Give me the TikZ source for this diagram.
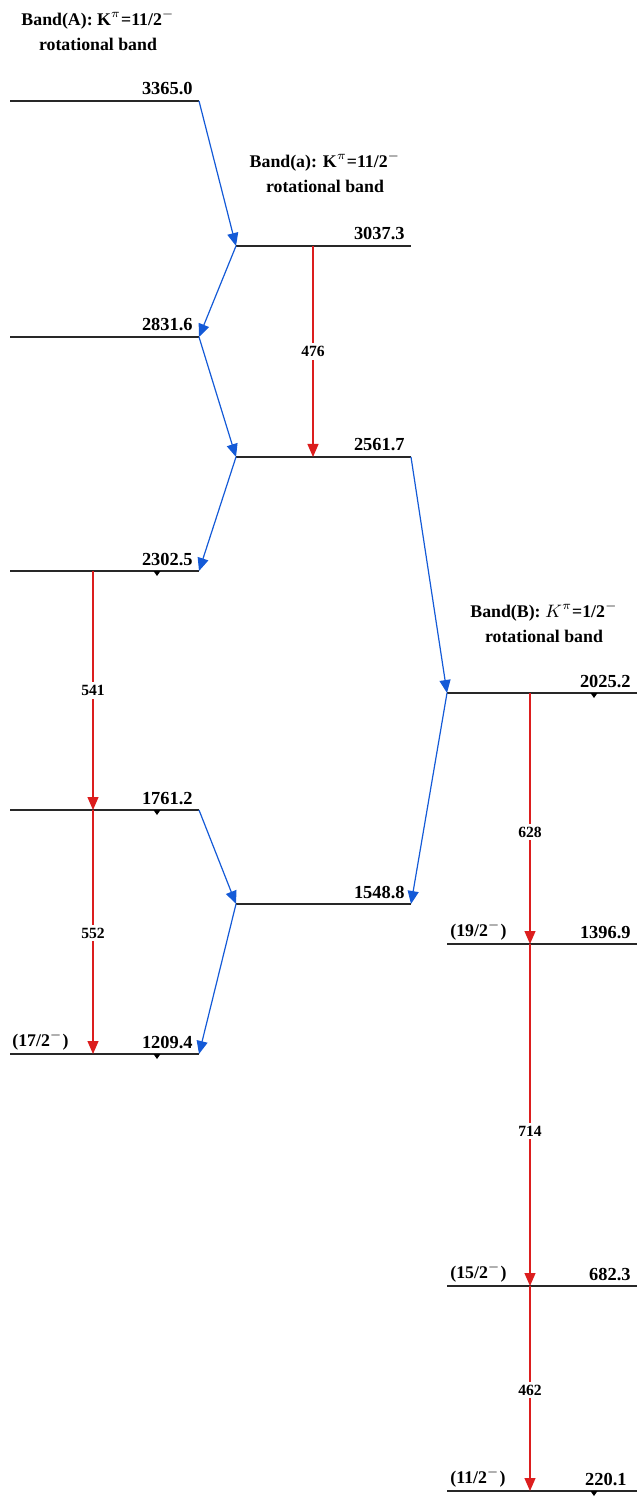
\documentclass[tikz,border=0pt]{standalone}
\usepackage{fontspec}
\setmainfont{Liberation Serif}
\usetikzlibrary{arrows.meta,calc}
\definecolor{tblue}{RGB}{20,90,215}
\definecolor{tred}{RGB}{220,30,30}
\definecolor{lvl}{RGB}{40,40,40}
\tikzset{
  level/.style={draw=lvl,line width=0.55pt},
  eng/.style={font=\fontsize{9.2pt}{10pt}\selectfont\bfseries,anchor=base east,inner sep=0pt},
  spin/.style={font=\fontsize{8.9pt}{10pt}\selectfont\bfseries,anchor=base west,inner sep=0pt},
  bandlbl/.style={font=\fontsize{8.9pt}{12.5pt}\selectfont\bfseries,align=center,inner sep=0pt},
  mband/.style={draw=tblue,line width=0.6pt,-{Triangle[width=5.5pt,length=6.5pt]}},
  eband/.style={draw=tred,line width=0.6pt,-{Triangle[width=5.5pt,length=6.5pt]}},
  elabel/.style={font=\fontsize{7.8pt}{8pt}\selectfont\bfseries,fill=white,inner sep=1.5pt},
  tick/.style={fill=black,draw=none}
}
\newcommand{\lvlmark}[1]{\fill[tick] ($(#1)+(-3.5,0)$) -- ($(#1)+(3.5,0)$) -- ($(#1)+(0,5)$) -- cycle;}
\begin{document}
\begin{tikzpicture}[x=0.5pt,y=-0.5pt]
\useasboundingbox (0,0) rectangle (637,1497);
% band labels
\node[bandlbl] (bA) at (98,30) {Band(A): K$^{\pi}$=11/2$^{-}$\\rotational band};
\node[bandlbl] (ba) at (325,172) {Band(a): K$^{\pi}$=11/2$^{-}$\\rotational band};
\node[bandlbl] (bB) at (544,622) {Band(B): $K^{\pi}$=1/2$^{-}$\\rotational band};
% Band A levels
\coordinate (A1l) at (10,101);  \coordinate (A1r) at (199,101);
\coordinate (A2l) at (10,337);  \coordinate (A2r) at (199,337);
\coordinate (A3l) at (10,571);  \coordinate (A3r) at (199,571);
\coordinate (A4l) at (10,810);  \coordinate (A4r) at (199,810);
\coordinate (A5l) at (10,1054); \coordinate (A5r) at (199,1054);
% Band a levels
\coordinate (a1l) at (236,246); \coordinate (a1r) at (411,246);
\coordinate (a2l) at (236,457); \coordinate (a2r) at (411,457);
\coordinate (a3l) at (236,904); \coordinate (a3r) at (411,904);
% Band B levels
\coordinate (B1l) at (447,693);  \coordinate (B1r) at (637,693);
\coordinate (B2l) at (447,944);  \coordinate (B2r) at (637,944);
\coordinate (B3l) at (447,1286); \coordinate (B3r) at (637,1286);
\coordinate (B4l) at (447,1491); \coordinate (B4r) at (637,1491);
\foreach \p in {A1,A2,A3,A4,A5,a1,a2,a3,B1,B2,B3,B4}{\draw[level] (\p l) -- (\p r);}
% energy labels
\node[eng] (e1) at (193,95) {3365.0};
\node[eng] (e2) at (193,331) {2831.6};
\node[eng] (e3) at (193,565) {2302.5};
\node[eng] (e4) at (193,804) {1761.2};
\node[eng] (e5) at (193,1048) {1209.4};
\node[eng] (e6) at (405,240) {3037.3};
\node[eng] (e7) at (405,451) {2561.7};
\node[eng] (e8) at (405,898) {1548.8};
\node[eng] (e9) at (631,687) {2025.2};
\node[eng] (e10) at (631,938) {1396.9};
\node[eng] (e11) at (631,1280) {682.3};
\node[eng] (e12) at (627,1485) {220.1};
% spin labels
\node[spin] (s1) at (12,1046) {(17/2$^{-}$)};
\node[spin] (s2) at (450,936) {(19/2$^{-}$)};
\node[spin] (s3) at (450,1278) {(15/2$^{-}$)};
\node[spin] (s4) at (450,1483) {(11/2$^{-}$)};
% tick marks
\coordinate (t1) at (157,571); \lvlmark{t1}
\coordinate (t2) at (157,810); \lvlmark{t2}
\coordinate (t3) at (157,1054); \lvlmark{t3}
\coordinate (t4) at (594,693); \lvlmark{t4}
\coordinate (t5) at (594,1491); \lvlmark{t5}
% blue (M1) transitions
\draw[mband] (A1r) -- (a1l);
\draw[mband] (a1l) -- (A2r);
\draw[mband] (A2r) -- (a2l);
\draw[mband] (a2l) -- (A3r);
\draw[mband] (a2r) -- (B1l);
\draw[mband] (B1l) -- (a3r);
\draw[mband] (A4r) -- (a3l);
\draw[mband] (a3l) -- (A5r);
% red (E2) transitions
\coordinate (r1s) at (313,246); \coordinate (r1e) at (313,457);
\coordinate (r2s) at (93,571);  \coordinate (r2e) at (93,810);
\coordinate (r3e) at (93,1054);
\coordinate (r4s) at (530,693); \coordinate (r4e) at (530,944);
\coordinate (r5e) at (530,1286);
\coordinate (r6e) at (530,1491);
\draw[eband] (r1s) -- node[elabel,pos=0.5] {476} (r1e);
\draw[eband] (r2s) -- node[elabel,pos=0.5] {541} (r2e);
\draw[eband] (r2e) -- node[elabel,pos=0.505] {552} (r3e);
\draw[eband] (r4s) -- node[elabel,pos=0.554] {628} (r4e);
\draw[eband] (r4e) -- node[elabel,pos=0.547] {714} (r5e);
\draw[eband] (r5e) -- node[elabel,pos=0.507] {462} (r6e);
\end{tikzpicture}
\end{document}
